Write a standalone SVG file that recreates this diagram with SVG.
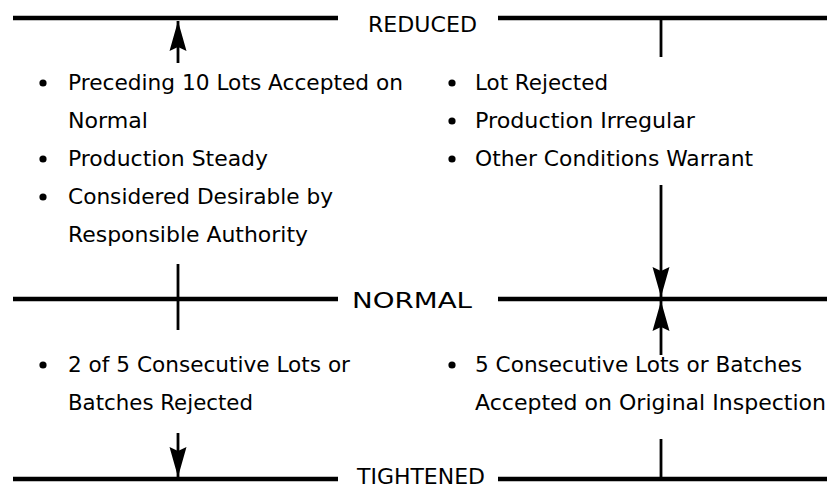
<svg xmlns="http://www.w3.org/2000/svg" width="827" height="486" viewBox="0 0 827 486">
  <style>
    .bar { stroke: #000; stroke-width: 4.5; fill: none; }
    .conn { stroke: #000; stroke-width: 2.8; fill: none; }
    .lbl { font-family: "DejaVu Sans", "Liberation Sans", Arial, sans-serif; font-size: 21px; fill: #000; }
    .dot { fill: #000; }
  </style>
  <defs>
    <marker id="head" markerUnits="userSpaceOnUse" viewBox="-31 -10 32 20" refX="0" refY="0" markerWidth="32" markerHeight="20" orient="auto">
      <path d="M0,0 L-30,-8.5 L-26,0 L-30,8.5 Z" fill="#000"/>
    </marker>
  </defs>

  <!-- inspection states: horizontal bars with centred titles -->
  <g id="reduced">
    <line class="bar" x1="13" y1="18" x2="338" y2="18"/>
    <line class="bar" x1="498" y1="18" x2="827" y2="18"/>
    <text class="lbl" x="368" y="32" textLength="109" lengthAdjust="spacingAndGlyphs">REDUCED</text>
  </g>
  <g id="normal">
    <line class="bar" x1="13" y1="299" x2="338" y2="299"/>
    <line class="bar" x1="498" y1="299" x2="827" y2="299"/>
    <text class="lbl" x="352" y="308" textLength="120" lengthAdjust="spacingAndGlyphs">NORMAL</text>
  </g>
  <g id="tightened">
    <line class="bar" x1="13" y1="479" x2="338" y2="479"/>
    <line class="bar" x1="498" y1="479" x2="827" y2="479"/>
    <text class="lbl" x="357" y="484" textLength="128" lengthAdjust="spacingAndGlyphs">TIGHTENED</text>
  </g>

  <!-- switching conditions -->
  <g id="normal-to-reduced">
    <circle class="dot" cx="43" cy="83" r="3.6"/>
    <text class="lbl" x="68" y="90" textLength="335" lengthAdjust="spacingAndGlyphs">Preceding 10 Lots Accepted on</text>
    <text class="lbl" x="68" y="128" textLength="80" lengthAdjust="spacingAndGlyphs">Normal</text>
    <circle class="dot" cx="43" cy="159" r="3.6"/>
    <text class="lbl" x="68" y="166" textLength="200" lengthAdjust="spacingAndGlyphs">Production Steady</text>
    <circle class="dot" cx="43" cy="197" r="3.6"/>
    <text class="lbl" x="68" y="204" textLength="265" lengthAdjust="spacingAndGlyphs">Considered Desirable by</text>
    <text class="lbl" x="68" y="242" textLength="240" lengthAdjust="spacingAndGlyphs">Responsible Authority</text>
  </g>
  <g id="reduced-to-normal">
    <circle class="dot" cx="452" cy="83" r="3.6"/>
    <text class="lbl" x="475" y="90" textLength="133" lengthAdjust="spacingAndGlyphs">Lot Rejected</text>
    <circle class="dot" cx="452" cy="121" r="3.6"/>
    <text class="lbl" x="475" y="128" textLength="220" lengthAdjust="spacingAndGlyphs">Production Irregular</text>
    <circle class="dot" cx="452" cy="159" r="3.6"/>
    <text class="lbl" x="475" y="166" textLength="278" lengthAdjust="spacingAndGlyphs">Other Conditions Warrant</text>
  </g>
  <g id="normal-to-tightened">
    <circle class="dot" cx="43" cy="365" r="3.6"/>
    <text class="lbl" x="68" y="372" textLength="282" lengthAdjust="spacingAndGlyphs">2 of 5 Consecutive Lots or</text>
    <text class="lbl" x="68" y="410" textLength="185" lengthAdjust="spacingAndGlyphs">Batches Rejected</text>
  </g>
  <g id="tightened-to-normal">
    <circle class="dot" cx="452" cy="365" r="3.6"/>
    <text class="lbl" x="475" y="372" textLength="327" lengthAdjust="spacingAndGlyphs">5 Consecutive Lots or Batches</text>
    <text class="lbl" x="475" y="410" textLength="351" lengthAdjust="spacingAndGlyphs">Accepted on Original Inspection</text>
  </g>

  <!-- transition connectors -->
  <g id="connectors">
    <line class="conn" x1="178" y1="63" x2="178" y2="21" marker-end="url(#head)"/>
    <line class="conn" x1="661" y1="18" x2="661" y2="57"/>
    <line class="conn" x1="178" y1="264" x2="178" y2="330"/>
    <line class="conn" x1="661" y1="185" x2="661" y2="297" marker-end="url(#head)"/>
    <line class="conn" x1="661" y1="355" x2="661" y2="301" marker-end="url(#head)"/>
    <line class="conn" x1="178" y1="433" x2="178" y2="477" marker-end="url(#head)"/>
    <line class="conn" x1="661" y1="439" x2="661" y2="479"/>
  </g>
</svg>
